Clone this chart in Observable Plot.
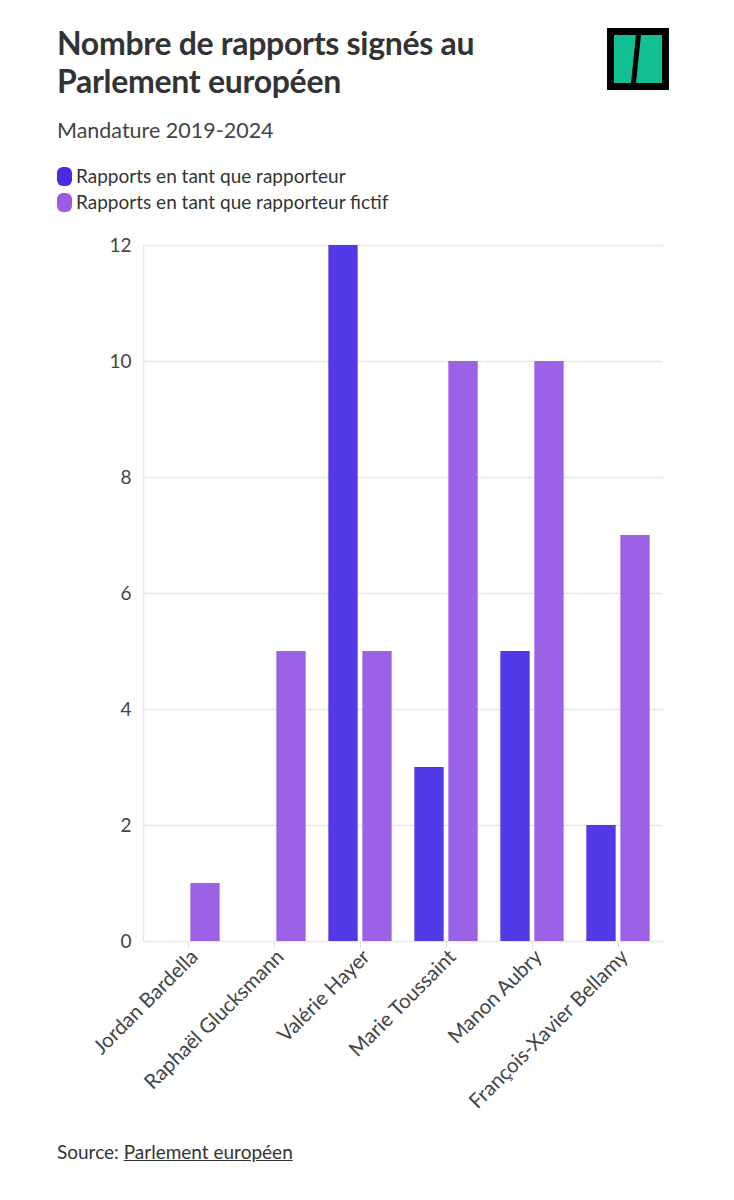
<!DOCTYPE html>
<html>
<head>
<meta charset="utf-8">
<script src="https://cdn.jsdelivr.net/npm/d3@7"></script>
<script src="https://cdn.jsdelivr.net/npm/@observablehq/plot@0.6"></script>
<style>
  html, body { margin: 0; padding: 0; background: #fff; }
  body { width: 734px; font-family: "Source Sans Pro", Lato, "Open Sans", sans-serif; color: #333; position: relative; }
  #wrap { padding: 24px 0 0 57px; position: relative; }
  h1 { font-size: 32px; line-height: 38px; font-weight: 700; margin: 0; color: #333; width: 470px; letter-spacing: -0.3px; }
  .sub { font-size: 21.5px; margin-top: 17px; color: #444; }
  .legend { margin-top: 20px; font-size: 19px; color: #333; line-height: 26px; }
  .legend .sw { display: inline-block; width: 15px; height: 19px; border-radius: 6px; vertical-align: -3px; margin-right: 4px; }
  #chart { margin-left: -57px; margin-top: 16px; }
  .source { font-size: 19px; color: #333; margin-top: 19px; }
  .source a { color: #333; text-decoration: underline; }
  #logo { position: absolute; left: 607px; top: 28px; }
  #shade { position: absolute; left: 0; top: 1184px; width: 734px; height: 16px; background: linear-gradient(#fff, #ececec); }
</style>
</head>
<body>
<div id="wrap">
  <svg id="logo" width="62" height="62" viewBox="0 0 62 62">
    <rect x="0" y="0" width="62" height="62" fill="#000"/>
    <rect x="7" y="7" width="48" height="48" fill="#12bf94"/>
    <polygon points="29,7 34,7 29,55 24,55" fill="#000"/>
  </svg>
  <h1>Nombre de rapports signés au Parlement européen</h1>
  <div class="sub">Mandature 2019-2024</div>
  <div class="legend" id="legend"></div>
  <div id="chart"></div>
  <div class="source">Source: <a>Parlement européen</a></div>
</div>
<div id="shade"></div>
<script>
const names = ["Jordan Bardella", "Raphaël Glucksmann", "Valérie Hayer", "Marie Toussaint", "Manon Aubry", "François-Xavier Bellamy"];
const rapporteur = [0, 0, 12, 3, 5, 2];
const rapporteurFictif = [1, 5, 5, 10, 10, 7];
const seriesNames = ["Rapports en tant que rapporteur", "Rapports en tant que rapporteur fictif"];
const seriesColors = ["#5139e6", "#9c62e5"];
const legendColors = ["#4a2ae3", "#9b5be6"];
const yTicks = [0, 2, 4, 6, 8, 10, 12];

const legend = document.getElementById("legend");
seriesNames.forEach((s, i) => {
  const d = document.createElement("div");
  d.innerHTML = `<span class="sw" style="background:${legendColors[i]}"></span>${s}`;
  legend.appendChild(d);
});

const W = 734, ML = 143, MR = 71;
const step = (W - ML - MR) / names.length;   // band width per person
const barW = 30, gap = 4;
const side = (step - 2 * barW - gap) / 2;

const dataA = names.map((n, i) => ({name: n, series: seriesNames[0], value: rapporteur[i]})).filter(d => d.value > 0);
const dataB = names.map((n, i) => ({name: n, series: seriesNames[1], value: rapporteurFictif[i]})).filter(d => d.value > 0);

const chart = Plot.plot({
  width: W,
  height: 890,
  marginLeft: ML,
  marginRight: MR,
  marginTop: 14,
  marginBottom: 180,
  style: { fontFamily: "'Source Sans Pro', Lato, 'Open Sans', sans-serif", fontSize: "19px", color: "#444", background: "#fff", overflow: "visible" },
  x: { domain: names, padding: 0, label: null },
  y: { domain: [0, 12], ticks: yTicks, label: null },
  color: { domain: seriesNames, range: seriesColors },
  marks: [
    Plot.ruleY(yTicks, { stroke: "#e8e8e8", strokeWidth: 1.5 }),
    Plot.frame({ anchor: "left", stroke: "#e8e8e8", strokeWidth: 1.5 }),
    Plot.axisY({ ticks: yTicks, tickSize: 0, tickPadding: 12, label: null, fill: "#444" }),
    Plot.axisX({ tickSize: 7, label: null, stroke: "#e0e0e0", text: null }),
    Plot.axisX({ tickRotate: -45, tickSize: 0, tickPadding: 12, label: null, fill: "#444", fontSize: 20.5, dx: 6 }),
    Plot.barY(dataA, { x: "name", y: "value", fill: "series", insetLeft: side, insetRight: side + barW + gap }),
    Plot.barY(dataB, { x: "name", y: "value", fill: "series", insetLeft: side + barW + gap, insetRight: side })
  ]
});
document.getElementById("chart").appendChild(chart);
</script>
</body>
</html>
